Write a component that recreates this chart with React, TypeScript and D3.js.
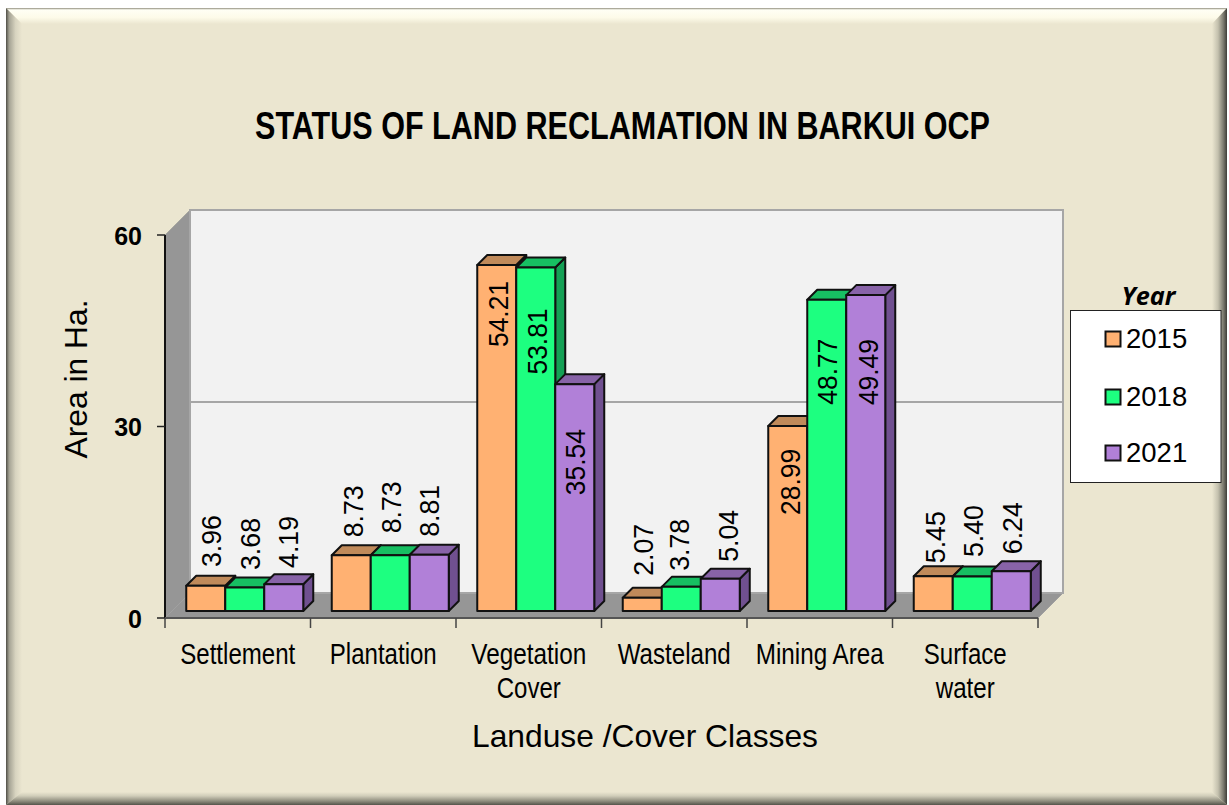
import React from 'react';
import * as d3 from 'd3';

const categories = ['Settlement', 'Plantation', 'Vegetation Cover', 'Wasteland', 'Mining Area', 'Surface water'];
const categoryLines = [['Settlement'], ['Plantation'], ['Vegetation', 'Cover'], ['Wasteland'], ['Mining Area'], ['Surface', 'water']];
const categoryWidths = [[115], [107], [115, 64], [113], [128], [83, 59]];
const years = ['2015', '2018', '2021'];
const values2015 = [3.96, 8.73, 54.21, 2.07, 28.99, 5.45];
const values2018 = [3.68, 8.73, 53.81, 3.78, 48.77, 5.40];
const values2021 = [4.19, 8.81, 35.54, 5.04, 49.49, 6.24];
const seriesValues = [values2015, values2018, values2021];
const yTicks = [0, 30, 60];

// labels were moved by hand in the original: gap from the bar's top edge, and sideways nudge
const labelGaps = [
  [-18.7, -18, 82, -22, 89, -13],
  [-17.5, -22, 107, -16, 105, -19.5],
  [-16.3, -18, 111, -17, 110, -17],
];
const labelNudges = [
  [5, 1.5, 1, 1, 2, 2],
  [5, 1, 1, -2, 0, 1],
  [4, 0, 0, 8, 2, 1],
];

const frontColors = ['#FFB172', '#1DFF80', '#B180D8'];
const topColors = ['#C08A5A', '#17BF62', '#8863A8'];
const sideColors = ['#A87A50', '#14A055', '#705090'];

const FONT = '"Liberation Sans", Arial, sans-serif';
const depth = 25;
const barDepth = 10;
const barShift = 7;
const left = 165, right = 1038, baseY = 618, topY = 235;

export default function App() {
  const x = d3.scaleBand<string>().domain(categories).range([left, right]);
  const y = d3.scaleLinear().domain([0, 60]).range([baseY, topY]);
  const groupWidth = 117;
  const xYear = d3.scaleBand<string>().domain(years).range([0, groupWidth]);
  const barW = xYear.bandwidth();
  const groupStart = (c: string) => x(c)! + (x.bandwidth() - groupWidth) / 2 + barShift;

  const poly = (pts: number[][]) => pts.map((p) => p.join(',')).join(' ');

  return (
    <svg width={1229} height={805} style={{ position: 'absolute', left: 0, top: 0, background: '#fff' }}>
      <defs>
        <linearGradient id="bevTop" x1="0" x2="0" y1="0" y2="1">
          <stop offset="0" stopColor="#8f8d7c" />
          <stop offset="0.12" stopColor="#fffff4" />
          <stop offset="0.6" stopColor="#fdfbe9" />
          <stop offset="1" stopColor="#ebe6d0" />
        </linearGradient>
        <linearGradient id="bevLeft" x1="0" x2="1" y1="0" y2="0">
          <stop offset="0" stopColor="#4f4e46" />
          <stop offset="0.2" stopColor="#a5a394" />
          <stop offset="0.6" stopColor="#d8d4c0" />
          <stop offset="1" stopColor="#ebe6d0" />
        </linearGradient>
        <linearGradient id="bevRight" x1="1" x2="0" y1="0" y2="0">
          <stop offset="0" stopColor="#3f3e38" />
          <stop offset="0.25" stopColor="#7d7c70" />
          <stop offset="0.6" stopColor="#c4c1ae" />
          <stop offset="1" stopColor="#ebe6d0" />
        </linearGradient>
        <linearGradient id="bevBottom" x1="0" x2="0" y1="1" y2="0">
          <stop offset="0" stopColor="#55544b" />
          <stop offset="0.3" stopColor="#8f8d7e" />
          <stop offset="0.7" stopColor="#d0cdb9" />
          <stop offset="1" stopColor="#ebe6d0" />
        </linearGradient>
      </defs>

      {/* frame */}
      <rect x={6} y={8} width={1221} height={797} fill="#EBE6D0" />
      <polygon points={poly([[6, 8], [1227, 8], [1212, 24], [22, 24]])} fill="url(#bevTop)" />
      <polygon points={poly([[6, 8], [22, 24], [22, 792], [6, 805]])} fill="url(#bevLeft)" />
      <polygon points={poly([[1227, 8], [1227, 805], [1212, 792], [1212, 24]])} fill="url(#bevRight)" />
      <polygon points={poly([[6, 805], [22, 792], [1212, 792], [1227, 805]])} fill="url(#bevBottom)" />

      <text x={622.5} y={139} textAnchor="middle" fontFamily={FONT} fontWeight="bold" fontSize={38} textLength={735} lengthAdjust="spacingAndGlyphs" fill="#000">
        STATUS OF LAND RECLAMATION IN BARKUI OCP
      </text>

      {/* walls and floor */}
      <polygon points={poly([[left, topY], [left + depth, topY - depth], [left + depth, baseY - depth], [left, baseY]])} fill="#969696" stroke="#a8a8a0" strokeWidth={1} />
      <polygon points={poly([[left, baseY], [right, baseY], [right + depth, baseY - depth], [left + depth, baseY - depth]])} fill="#969696" stroke="#a0a0a0" strokeWidth={1} />
      <rect x={left + depth} y={topY - depth} width={right - left} height={baseY - topY} fill="#F2F2F2" stroke="#A6A6A6" strokeWidth={2} />
      {yTicks.filter((t) => t > 0 && t < 60).map((t) => (
        <line key={t} x1={left + depth} x2={right + depth} y1={y(t) - depth + 0.5} y2={y(t) - depth + 0.5} stroke="#A6A6A6" strokeWidth={2} />
      ))}

      {/* axes */}
      <line x1={left} x2={left} y1={topY} y2={baseY} stroke="#111" strokeWidth={2} />
      <line x1={left} x2={right} y1={baseY} y2={baseY} stroke="#555" strokeWidth={2} />
      {yTicks.map((t) => (
        <g key={t}>
          <line x1={left - 8} x2={left} y1={y(t)} y2={y(t)} stroke="#222" strokeWidth={1.5} />
          <text x={142} y={y(t) + 9.5} textAnchor="end" fontFamily={FONT} fontWeight="bold" fontSize={25}>{t}</text>
        </g>
      ))}
      {[...categories.map((c) => x(c)!), right].map((px) => (
        <line key={px} x1={px} x2={px} y1={baseY} y2={baseY + 10} stroke="#444" strokeWidth={1.5} />
      ))}

      {/* bars */}
      {categories.map((c, ci) => (
        <g key={c}>
          {years.map((yr, si) => {
            const v = seriesValues[si][ci];
            const x0 = groupStart(c) + xYear(yr)!;
            const x1 = x0 + barW;
            const b = baseY - barShift;
            const t = y(v) - barShift;
            return (
              <g key={yr} stroke="#111" strokeWidth={2} strokeLinejoin="round">
                <polygon points={poly([[x1, t], [x1 + barDepth, t - barDepth], [x1 + barDepth, b - barDepth], [x1, b]])} fill={sideColors[si]} />
                <polygon points={poly([[x0, t], [x0 + barDepth, t - barDepth], [x1 + barDepth, t - barDepth], [x1, t]])} fill={topColors[si]} />
                <rect x={x0} y={t} width={barW} height={b - t} fill={frontColors[si]} />
              </g>
            );
          })}
          {years.map((yr, si) => {
            const v = seriesValues[si][ci];
            const tx = groupStart(c) + xYear(yr)! + barW / 2 + labelNudges[si][ci];
            const ty = y(v) - barShift + labelGaps[si][ci];
            return (
              <text key={yr} transform={`translate(${tx},${ty}) rotate(-90)`} dy="0.36em" fontFamily={FONT} fontSize={27.5} textLength={v >= 10 ? 66 : 52} lengthAdjust="spacingAndGlyphs" fill="#000">
                {v.toFixed(2)}
              </text>
            );
          })}
        </g>
      ))}

      {/* category labels */}
      {categories.map((c, ci) =>
        categoryLines[ci].map((line, li) => (
          <text key={line} x={x(c)! + x.bandwidth() / 2} y={663.5 + li * 34} textAnchor="middle" fontFamily={FONT} fontSize={29.5} textLength={categoryWidths[ci][li]} lengthAdjust="spacingAndGlyphs">
            {line}
          </text>
        ))
      )}

      <text x={645} y={747} textAnchor="middle" fontFamily={FONT} fontSize={32} textLength={346} lengthAdjust="spacingAndGlyphs">
        Landuse /Cover Classes
      </text>
      <text transform="translate(87,379) rotate(-90)" textAnchor="middle" fontFamily={FONT} fontSize={32} textLength={159} lengthAdjust="spacingAndGlyphs">
        Area in Ha.
      </text>

      {/* legend */}
      <text x={1148.5} y={305} textAnchor="middle" fontFamily='"Open Sans", sans-serif' fontWeight="bold" fontStyle="italic" fontSize={25} textLength={54} lengthAdjust="spacingAndGlyphs">
        Year
      </text>
      <rect x={1070.5} y={310.5} width={150.5} height={172} fill="#fff" stroke="#222" strokeWidth={1} />
      {years.map((yr, si) => {
        const ry = [339, 397, 453][si];
        return (
          <g key={yr}>
            <rect x={1105.5} y={ry - 7.5} width={15} height={15} fill={frontColors[si]} stroke="#111" strokeWidth={2} />
            <text x={1126} y={ry + 9} fontFamily={FONT} fontSize={27.5}>{yr}</text>
          </g>
        );
      })}
    </svg>
  );
}
